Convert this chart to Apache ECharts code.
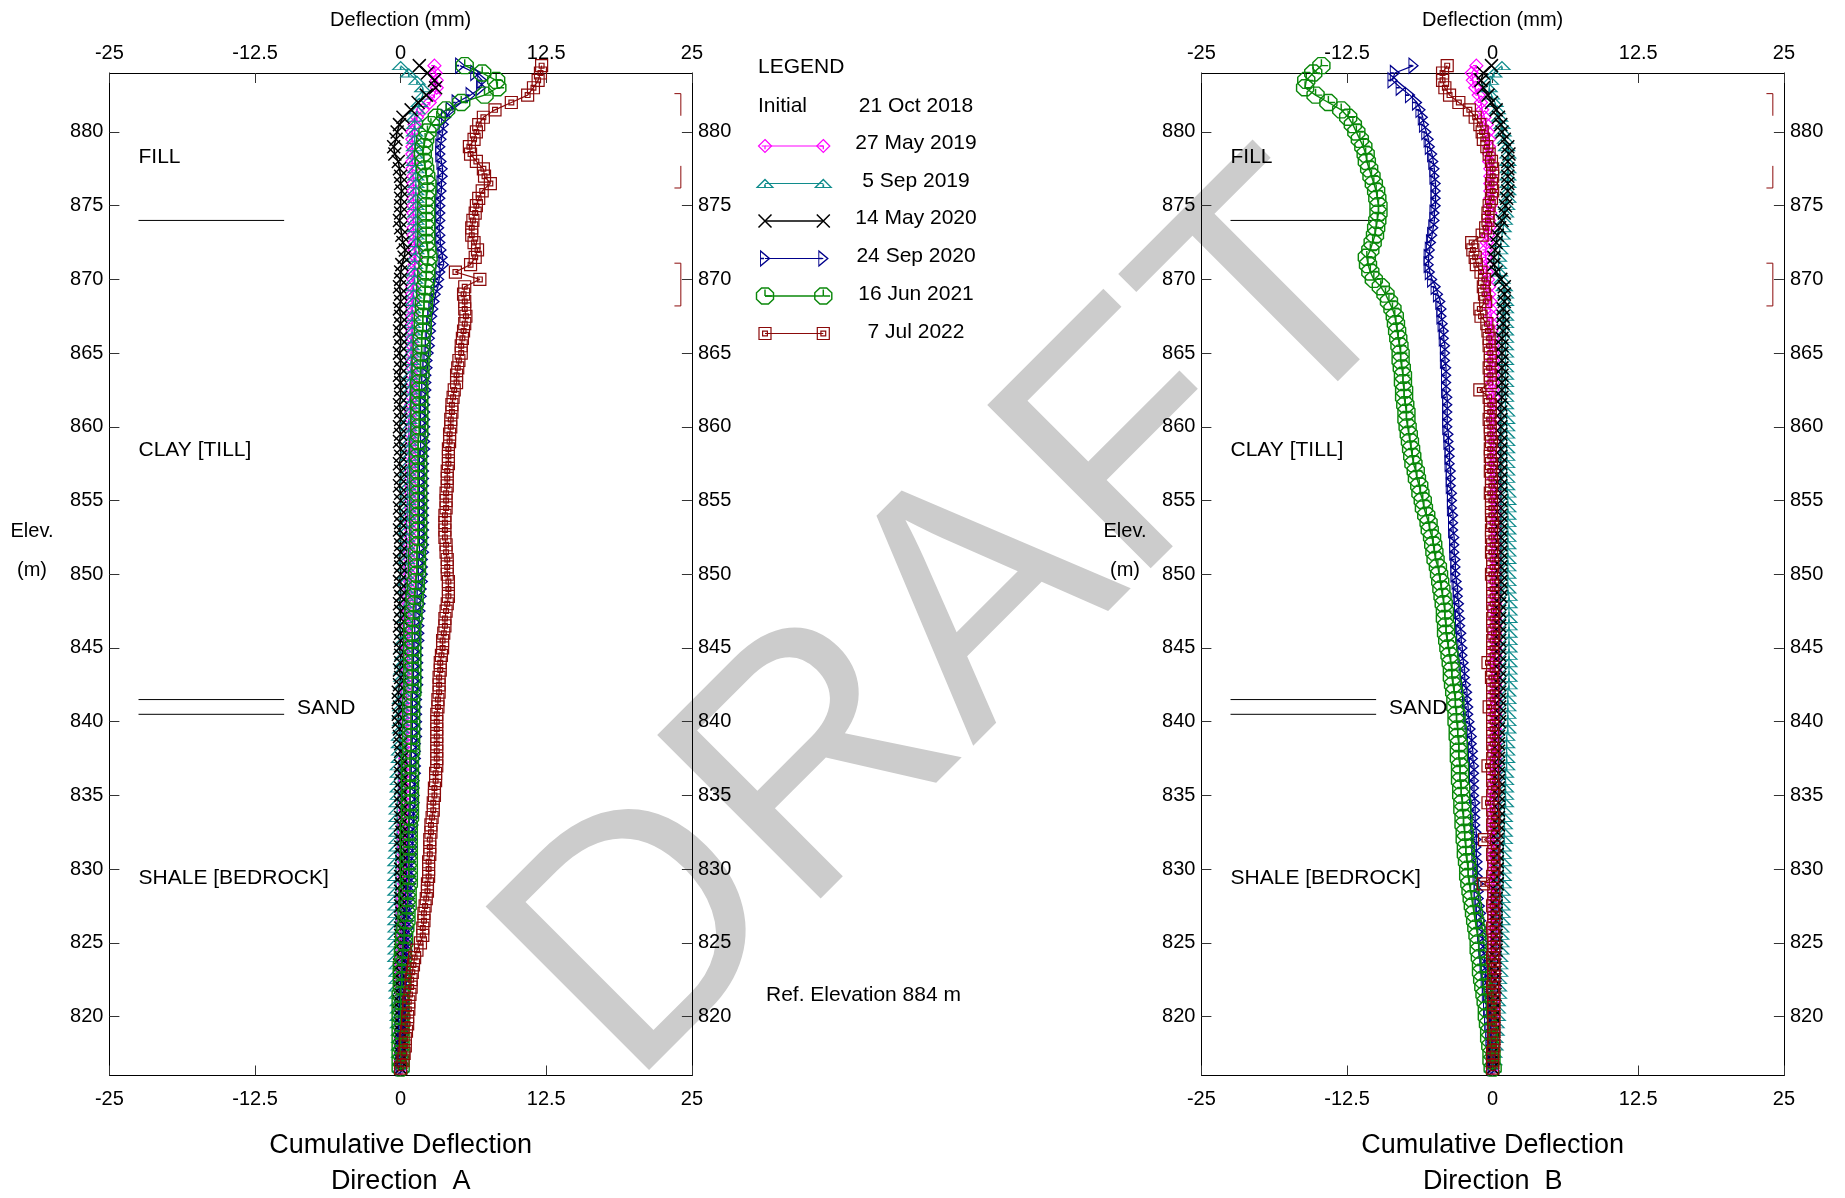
<!DOCTYPE html>
<html>
<head>
<meta charset="utf-8">
<title>Cumulative Deflection</title>
<script src="https://cdn.jsdelivr.net/npm/echarts@6.0.0/dist/echarts.min.js"></script>
<style>
html, body { margin: 0; padding: 0; background: #fff; }
#chart { width: 1845px; height: 1198px; }
</style>
</head>
<body>
<div id="chart"></div>
<script>
// reading depths (m), top of casing first
var elev = [
  884.5,884,883.5,883,882.5,882,881.5,881,880.5,880,
  879.5,879,878.5,878,877.5,877,876.5,876,875.5,875,
  874.5,874,873.5,873,872.5,872,871.5,871,870.5,870,
  869.5,869,868.5,868,867.5,867,866.5,866,865.5,865,
  864.5,864,863.5,863,862.5,862,861.5,861,860.5,860,
  859.5,859,858.5,858,857.5,857,856.5,856,855.5,855,
  854.5,854,853.5,853,852.5,852,851.5,851,850.5,850,
  849.5,849,848.5,848,847.5,847,846.5,846,845.5,845,
  844.5,844,843.5,843,842.5,842,841.5,841,840.5,840,
  839.5,839,838.5,838,837.5,837,836.5,836,835.5,835,
  834.5,834,833.5,833,832.5,832,831.5,831,830.5,830,
  829.5,829,828.5,828,827.5,827,826.5,826,825.5,825,
  824.5,824,823.5,823,822.5,822,821.5,821,820.5,820,
  819.5,819,818.5,818,817.5,817,816.5
];

// Direction A (mm)
var aMagenta = [
  2.9,3.0,3.1,3.1,2.9,2.5,1.9,1.4,1.2,1.0,
  1.0,1.0,1.0,1.0,1.0,1.1,1.1,1.1,1.1,1.1,
  1.1,1.1,1.1,1.1,1.2,1.2,1.3,1.2,1.1,1.1,
  1.0,1.0,1.0,1.0,1.0,1.0,1.0,1.0,1.0,1.0,
  1.0,1.0,1.0,1.0,1.0,1.0,0.9,0.9,0.9,0.9,
  0.9,0.9,0.9,0.9,0.9,0.9,0.9,0.9,0.9,0.9,
  0.9,0.9,0.9,0.9,0.9,0.8,0.8,0.8,0.8,0.8,
  0.8,0.8,0.7,0.7,0.7,0.7,0.7,0.6,0.6,0.6,
  0.6,0.6,0.6,0.6,0.6,0.5,0.5,0.5,0.5,0.5,
  0.5,0.5,0.5,0.5,0.4,0.4,0.4,0.4,0.4,0.4,
  0.4,0.4,0.4,0.3,0.3,0.3,0.3,0.3,0.3,0.3,
  0.3,0.3,0.3,0.2,0.2,0.2,0.2,0.2,0.2,0.2,
  0.2,0.1,0.1,0.1,0.1,0.1,0.1,0.1,0.0,0.0,
  0.0,0.0,0.0,0.0,0.0,0.0,0.0
];
var aTeal = [
  0.0,0.7,1.4,1.9,1.9,1.6,1.4,1.2,1.2,1.2,
  1.2,1.2,1.2,1.2,1.3,1.3,1.3,1.3,1.3,1.3,
  1.3,1.3,1.3,1.3,1.3,1.3,1.2,1.2,1.2,1.2,
  1.1,1.1,1.1,1.0,1.0,1.0,1.0,0.9,0.9,0.9,
  0.9,0.9,0.8,0.8,0.8,0.8,0.8,0.8,0.7,0.7,
  0.7,0.7,0.7,0.7,0.7,0.6,0.6,0.6,0.6,0.6,
  0.6,0.6,0.5,0.5,0.5,0.5,0.5,0.5,0.4,0.4,
  0.4,0.4,0.4,0.3,0.3,0.3,0.3,0.3,0.2,0.2,
  0.2,0.2,0.1,0.1,0.1,0.1,0.0,0.0,0.0,0.0,
  0.0,-0.1,-0.1,-0.1,-0.1,-0.2,-0.2,-0.2,-0.2,-0.2,
  -0.3,-0.3,-0.3,-0.3,-0.3,-0.3,-0.3,-0.4,-0.4,-0.4,
  -0.4,-0.4,-0.4,-0.4,-0.4,-0.4,-0.4,-0.4,-0.4,-0.4,
  -0.4,-0.4,-0.3,-0.3,-0.3,-0.3,-0.3,-0.2,-0.2,-0.2,
  -0.2,-0.1,-0.1,-0.1,-0.1,0.0,0.0
];
var aBlack = [
  1.6,2.3,2.9,3.0,2.2,1.5,0.9,0.2,-0.1,-0.3,
  -0.4,-0.6,-0.5,-0.2,-0.1,0.0,0.0,0.1,0.0,0.0,
  0.0,-0.1,0.0,0.1,0.2,0.4,0.3,0.1,0.0,0.0,
  -0.1,0.0,0.0,-0.1,0.0,0.0,-0.1,0.0,0.0,-0.1,
  0.0,0.0,-0.1,0.0,0.0,0.0,-0.1,0.0,0.0,-0.1,
  0.0,-0.1,0.0,0.0,-0.1,0.0,0.0,-0.1,0.0,0.0,
  -0.1,0.0,0.0,-0.1,0.0,0.0,0.0,-0.1,0.0,0.0,
  -0.1,0.0,0.0,-0.1,0.0,0.0,-0.1,0.0,0.0,-0.1,
  0.0,0.0,-0.1,0.0,-0.1,-0.2,-0.2,-0.1,-0.2,-0.2,
  -0.1,-0.1,0.0,0.0,0.1,0.0,0.0,0.1,0.0,0.0,
  0.0,0.1,0.0,0.0,0.1,0.0,0.0,0.1,0.1,0.0,
  0.0,0.1,0.0,0.0,0.0,0.1,0.0,0.0,0.0,0.0,
  0.0,0.0,-0.1,0.0,0.0,0.0,0.0,-0.1,0.0,0.0,
  0.0,0.0,0.0,0.0,0.0,0.0,0.0
];
var aBlue = [
  5.1,6.4,7.0,6.9,6.0,4.8,4.3,3.9,3.7,3.6,
  3.5,3.4,3.4,3.5,3.6,3.6,3.5,3.5,3.4,3.4,
  3.4,3.4,3.3,3.4,3.4,3.5,3.6,3.7,3.4,3.3,
  3.2,3.0,2.9,2.8,2.7,2.6,2.6,2.5,2.5,2.4,
  2.3,2.3,2.2,2.2,2.2,2.1,2.1,2.1,2.1,2.1,
  2.1,2.1,2.1,2.0,2.0,2.0,2.0,2.0,2.0,2.0,
  2.0,2.0,2.0,2.0,2.0,2.0,2.0,1.9,1.9,1.9,
  1.9,1.8,1.8,1.7,1.7,1.6,1.6,1.6,1.6,1.5,
  1.5,1.5,1.5,1.5,1.5,1.4,1.4,1.4,1.4,1.4,
  1.4,1.4,1.3,1.3,1.3,1.3,1.3,1.2,1.2,1.2,
  1.2,1.1,1.1,1.1,1.0,1.0,1.0,1.0,0.9,0.9,
  0.9,0.9,0.8,0.8,0.8,0.7,0.7,0.7,0.6,0.6,
  0.6,0.5,0.5,0.5,0.4,0.4,0.3,0.3,0.3,0.2,
  0.2,0.2,0.1,0.1,0.1,0.0,0.0
];
var aGreen = [
  5.5,7.0,8.2,8.3,7.2,5.2,3.9,3.1,2.6,2.3,
  2.1,2.0,1.9,2.0,2.1,2.2,2.3,2.3,2.2,2.2,
  2.2,2.2,2.2,2.2,2.2,2.3,2.4,2.3,2.2,2.2,
  2.1,2.1,2.0,2.0,1.9,1.9,1.9,1.8,1.8,1.8,
  1.7,1.7,1.7,1.6,1.6,1.6,1.6,1.6,1.6,1.6,
  1.6,1.5,1.5,1.5,1.5,1.5,1.5,1.5,1.5,1.5,
  1.5,1.5,1.5,1.5,1.5,1.5,1.4,1.4,1.4,1.4,
  1.3,1.3,1.2,1.2,1.1,1.1,1.0,1.0,1.0,1.0,
  1.0,1.0,1.0,1.0,1.0,1.0,0.9,0.9,0.9,0.9,
  0.9,0.9,0.9,0.9,0.8,0.8,0.8,0.8,0.8,0.8,
  0.8,0.8,0.8,0.7,0.7,0.7,0.7,0.7,0.7,0.7,
  0.7,0.7,0.6,0.6,0.6,0.5,0.5,0.4,0.3,0.3,
  0.2,0.2,0.1,0.1,0.1,0.1,0.0,0.0,0.0,0.0,
  0.0,0.0,0.0,0.0,0.0,0.0,0.0
];
var aRed = [
  12.1,12.0,11.8,11.4,10.9,9.5,8.1,7.1,6.7,6.5,
  6.3,5.9,6.0,6.5,7.1,7.2,7.7,7.0,6.7,6.5,
  6.4,6.2,6.1,6.1,6.3,6.6,6.4,6.0,4.7,6.8,
  5.5,5.4,5.5,5.5,5.6,5.5,5.4,5.3,5.2,5.2,
  5.0,4.9,4.8,4.8,4.6,4.5,4.4,4.4,4.3,4.3,
  4.2,4.2,4.1,4.1,4.1,4.0,4.0,4.0,3.9,3.9,
  3.9,3.8,3.8,3.8,3.8,3.9,3.9,4.0,4.0,4.0,
  4.1,4.1,4.1,4.0,3.9,3.8,3.8,3.7,3.6,3.6,
  3.5,3.4,3.4,3.3,3.3,3.3,3.2,3.2,3.1,3.1,
  3.1,3.1,3.1,3.1,3.1,3.1,3.0,3.0,2.9,2.9,
  2.8,2.8,2.7,2.6,2.6,2.5,2.5,2.5,2.4,2.4,
  2.4,2.3,2.3,2.2,2.1,2.0,2.0,1.9,1.9,1.7,
  1.4,1.2,1.1,1.0,0.9,0.9,0.8,0.7,0.7,0.6,
  0.6,0.5,0.4,0.4,0.3,0.2,0.0
];

// Direction B (mm)
var bMagenta = [
  -1.4,-1.8,-1.7,-1.5,-1.2,-1.0,-0.9,-0.7,-0.5,-0.4,
  -0.3,-0.3,-0.3,-0.3,-0.2,-0.2,-0.2,-0.2,-0.2,-0.2,
  -0.2,-0.3,-0.3,-0.4,-0.5,-0.6,-0.6,-0.5,-0.5,-0.4,
  -0.3,-0.3,-0.2,-0.2,-0.1,-0.1,-0.1,0.0,0.0,0.0,
  0.0,0.0,0.0,0.0,0.0,0.1,0.1,0.1,0.1,0.1,
  0.1,0.1,0.1,0.1,0.1,0.1,0.1,0.2,0.2,0.2,
  0.2,0.2,0.2,0.2,0.2,0.2,0.2,0.2,0.2,0.2,
  0.2,0.2,0.2,0.2,0.2,0.2,0.2,0.2,0.2,0.2,
  0.2,0.2,0.2,0.2,0.2,0.2,0.2,0.2,0.2,0.2,
  0.2,0.2,0.2,0.2,0.2,0.2,0.2,0.2,0.1,0.1,
  0.1,0.1,0.1,0.1,0.1,0.1,0.1,0.1,0.1,0.1,
  0.1,0.1,0.1,0.1,0.1,0.1,0.1,0.1,0.1,0.1,
  0.1,0.1,0.1,0.1,0.1,0.1,0.1,0.0,0.0,0.0,
  0.0,0.0,0.0,0.0,0.0,0.0,0.0
];
var bTeal = [
  0.8,0.1,-0.2,-0.3,-0.1,0.2,0.4,0.6,0.8,0.9,
  1.1,1.2,1.3,1.3,1.3,1.3,1.3,1.3,1.3,1.2,
  1.1,1.0,0.9,0.8,0.7,0.6,0.5,0.5,0.6,0.8,
  1.0,1.1,1.1,1.1,1.1,1.1,1.1,1.1,1.1,1.1,
  1.1,1.1,1.1,1.1,1.1,1.1,1.1,1.2,1.2,1.2,
  1.2,1.2,1.2,1.2,1.2,1.2,1.2,1.2,1.3,1.3,
  1.3,1.3,1.3,1.3,1.3,1.3,1.3,1.3,1.3,1.3,
  1.3,1.3,1.4,1.4,1.4,1.4,1.4,1.4,1.4,1.4,
  1.4,1.4,1.4,1.4,1.4,1.3,1.3,1.3,1.3,1.3,
  1.3,1.2,1.2,1.2,1.2,1.2,1.1,1.1,1.1,1.1,
  1.1,1.0,1.0,1.0,1.0,1.0,0.9,0.9,0.9,0.9,
  0.9,0.9,0.8,0.8,0.8,0.8,0.8,0.7,0.7,0.7,
  0.7,0.6,0.6,0.6,0.5,0.5,0.5,0.4,0.4,0.4,
  0.3,0.3,0.2,0.2,0.1,0.1,0.0
];
var bBlack = [
  -0.1,-0.8,-1.0,-0.8,-0.4,-0.1,0.3,0.5,0.7,0.8,
  1.0,1.3,1.4,1.3,1.3,1.3,1.3,1.3,1.2,1.1,
  1.0,0.8,0.6,0.4,0.3,0.2,0.1,0.1,0.3,0.7,
  1.0,1.0,1.0,0.9,0.9,0.9,0.9,0.8,0.8,0.8,
  0.8,0.8,0.8,0.8,0.8,0.8,0.7,0.7,0.7,0.7,
  0.7,0.7,0.7,0.7,0.7,0.7,0.7,0.7,0.7,0.7,
  0.7,0.7,0.7,0.7,0.7,0.7,0.7,0.7,0.7,0.7,
  0.7,0.7,0.7,0.6,0.6,0.6,0.6,0.6,0.6,0.6,
  0.6,0.6,0.6,0.6,0.6,0.6,0.6,0.6,0.6,0.6,
  0.5,0.5,0.5,0.5,0.5,0.5,0.5,0.5,0.5,0.5,
  0.5,0.5,0.5,0.5,0.4,0.4,0.4,0.4,0.4,0.4,
  0.4,0.4,0.3,0.3,0.3,0.3,0.3,0.3,0.3,0.3,
  0.3,0.2,0.2,0.2,0.2,0.2,0.2,0.1,0.1,0.1,
  0.1,0.1,0.1,0.0,0.0,0.0,0.0
];
var bBlue = [
  -6.8,-8.4,-8.6,-7.9,-7.1,-6.5,-6.2,-6.0,-5.9,-5.7,
  -5.5,-5.4,-5.2,-5.1,-5.0,-5.0,-4.9,-4.9,-4.9,-4.9,
  -5.0,-5.0,-5.1,-5.2,-5.3,-5.4,-5.5,-5.5,-5.4,-5.2,
  -4.9,-4.7,-4.5,-4.4,-4.4,-4.3,-4.2,-4.2,-4.1,-4.1,
  -4.1,-4.0,-4.0,-4.0,-4.0,-3.9,-3.9,-3.9,-3.9,-3.9,
  -3.8,-3.8,-3.7,-3.7,-3.7,-3.6,-3.6,-3.6,-3.5,-3.5,
  -3.5,-3.4,-3.4,-3.4,-3.3,-3.3,-3.3,-3.2,-3.2,-3.2,
  -3.1,-3.0,-3.0,-2.9,-2.9,-2.8,-2.8,-2.7,-2.7,-2.6,
  -2.6,-2.5,-2.4,-2.4,-2.3,-2.2,-2.2,-2.1,-2.1,-2.0,
  -1.9,-1.8,-1.8,-1.7,-1.7,-1.6,-1.6,-1.6,-1.6,-1.6,
  -1.5,-1.5,-1.5,-1.5,-1.4,-1.4,-1.4,-1.4,-1.3,-1.3,
  -1.3,-1.2,-1.2,-1.2,-1.1,-1.0,-1.0,-0.9,-0.9,-0.8,
  -0.8,-0.7,-0.7,-0.6,-0.6,-0.5,-0.5,-0.4,-0.4,-0.3,
  -0.3,-0.2,-0.2,-0.1,-0.1,0.0,0.0
];
var bGreen = [
  -14.7,-15.4,-16.0,-16.1,-15.2,-14.1,-13.0,-12.4,-12.0,-11.7,
  -11.4,-11.1,-10.9,-10.8,-10.6,-10.4,-10.2,-10.0,-9.9,-9.8,
  -9.8,-9.9,-10.0,-10.1,-10.3,-10.5,-10.8,-10.7,-10.5,-10.2,
  -9.6,-9.2,-8.9,-8.6,-8.4,-8.3,-8.2,-8.1,-8.0,-7.9,
  -7.9,-7.8,-7.7,-7.7,-7.6,-7.6,-7.5,-7.4,-7.4,-7.3,
  -7.2,-7.1,-7.0,-6.9,-6.8,-6.6,-6.5,-6.3,-6.2,-6.0,
  -5.9,-5.7,-5.5,-5.4,-5.2,-5.1,-5.0,-4.9,-4.7,-4.6,
  -4.5,-4.4,-4.3,-4.2,-4.1,-4.1,-4.0,-4.0,-3.9,-3.8,
  -3.7,-3.6,-3.5,-3.5,-3.4,-3.3,-3.2,-3.2,-3.1,-3.1,
  -3.0,-3.0,-2.9,-2.9,-2.9,-2.8,-2.8,-2.8,-2.7,-2.7,
  -2.6,-2.6,-2.5,-2.5,-2.4,-2.4,-2.3,-2.3,-2.2,-2.1,
  -2.1,-2.0,-1.9,-1.8,-1.7,-1.6,-1.5,-1.4,-1.3,-1.2,
  -1.2,-1.1,-1.0,-1.0,-0.9,-0.8,-0.7,-0.6,-0.5,-0.5,
  -0.4,-0.3,-0.3,-0.2,-0.1,-0.1,0.0
];
var bRed = [
  -3.9,-4.3,-4.3,-4.1,-3.7,-2.9,-2.0,-1.5,-1.1,-0.9,
  -0.8,-0.5,-0.3,-0.1,0.0,0.0,-0.1,0.0,-0.1,-0.3,
  -0.4,-0.4,-0.6,-0.9,-1.8,-1.7,-1.5,-1.4,-1.0,-0.7,
  -0.8,-0.7,-0.6,-1.1,-1.0,-0.5,-0.4,-0.3,-0.3,-0.2,
  -0.2,-0.3,-0.2,-0.2,-1.1,-0.3,-0.2,-0.2,-0.3,-0.2,
  -0.2,-0.1,-0.2,-0.2,-0.1,-0.2,-0.1,-0.1,-0.2,-0.1,
  -0.1,-0.1,0.0,-0.1,-0.1,0.0,-0.1,0.0,0.0,-0.1,
  0.0,0.0,0.0,0.0,0.1,0.0,0.0,0.1,0.0,0.0,
  0.0,-0.4,0.0,-0.1,0.0,0.0,0.0,-0.3,0.0,0.0,
  0.0,0.0,0.0,0.1,0.0,-0.4,0.0,0.0,0.1,0.0,
  -0.4,0.0,0.1,0.0,0.1,-0.7,0.1,0.0,0.1,0.1,
  0.0,-0.8,0.1,0.1,0.0,0.1,0.1,0.0,0.1,0.1,
  0.1,0.0,0.1,0.1,0.1,0.0,0.1,0.1,0.1,0.1,
  0.1,0.1,0.1,0.1,0.0,0.0,0.0
];

var readingDates = ['27 May 2019', '5 Sep 2019', '14 May 2020', '24 Sep 2020', '16 Jun 2021', '7 Jul 2022'];
var initialDate = '21 Oct 2018';
var dirA = [aMagenta, aTeal, aBlack, aBlue, aGreen, aRed];
var dirB = [bMagenta, bTeal, bBlack, bBlue, bGreen, bRed];

// soil log
var strataNames = ['FILL', 'CLAY [TILL]', 'SAND', 'SHALE [BEDROCK]'];
var strataLabelX = [-22.5, -22.5, -8.9, -22.5];
var strataLabelElev = [878.3, 858.4, 840.9, 829.4];
var strataLineElev = [874, 841.5, 840.5];
var strataLineFrom = -22.5, strataLineTo = -10;

// red marks at the right edge
var casingMarks = [
  [[23.5, 882.6], [24.05, 882.6], [24.05, 881.1]],
  [[24.05, 877.7], [24.05, 876.2], [23.5, 876.2]],
  [[23.5, 871.1], [24.05, 871.1], [24.05, 868.2], [23.5, 868.2]]
];

var FONT = '"Liberation Sans", Arial, Helvetica, sans-serif';

var looks = [
  { color: '#ff00ff', symbol: 'path://M5,0L10,5L5,10L0,5Z M2.5,5L5,5L5,7.5', size: [13, 13], width: 1.2 },
  { color: '#108c8c', symbol: 'path://M0,10L5,0L10,10Z M5,10L5,6', size: [16, 8], width: 1.2 },
  { color: '#000000', symbol: 'path://M0,0L10,10M10,0L0,10', size: [13, 13], width: 1.5 },
  { color: '#00008b', symbol: 'path://M0,0L10,5L0,10Z M0,5L4,5', size: [9, 15], width: 1.2 },
  { color: '#0a880a', symbol: 'path://M3,0L7,0L10,3L10,7L7,10L3,10L0,7L0,3Z M5,5L5,1 M5,5L9,5', size: [17, 16], width: 1.4 },
  { color: '#8b0a0a', symbol: 'path://M0,0L10,0L10,10L0,10Z M3,3L7,3L7,7L3,7Z', size: [12, 12], width: 1.2 }
];

var myChart = echarts.init(document.getElementById('chart'));

var plotLeft = [109.4, 1201.4];
var plotTop = 73, plotW = 582.5, plotH = 1002.5;

var grids = [], xAxes = [], yAxes = [], series = [];

function markSeries(k, pts, xi) {
  var lk = looks[k];
  return {
    type: 'line', name: readingDates[k],
    xAxisIndex: xi, yAxisIndex: xi,
    data: pts,
    symbol: lk.symbol, symbolSize: lk.size, showSymbol: true,
    clip: false, silent: true, z: 4,
    lineStyle: { color: lk.color, width: lk.width },
    itemStyle: { color: 'rgba(0,0,0,0)', borderColor: lk.color, borderWidth: lk.width },
    emphasis: { disabled: true }
  };
}

[0, 1].forEach(function (g) {
  grids.push({ left: plotLeft[g], top: plotTop, width: plotW, height: plotH, outerBoundsMode: 'none' });
  var xBase = {
    type: 'value', gridIndex: g, min: -25, max: 25, interval: 12.5, z: 3,
    axisLine: { show: true, onZero: false, lineStyle: { color: '#000', width: 1 } },
    axisTick: { show: true, inside: true, length: 10, lineStyle: { color: '#333', width: 1 } },
    splitLine: { show: false },
    axisLabel: { color: '#000', fontSize: 20, fontFamily: FONT }
  };
  xAxes.push(echarts.util.merge({
    position: 'bottom',
    axisLabel: { margin: 14 },
    name: 'Cumulative Deflection\nDirection  ' + (g === 0 ? 'A' : 'B'),
    nameLocation: 'middle', nameGap: 52,
    nameTextStyle: { color: '#000', fontSize: 27, lineHeight: 36, fontFamily: FONT }
  }, echarts.util.clone(xBase), false));
  xAxes.push(echarts.util.merge({
    position: 'top',
    axisLabel: { margin: 10 },
    name: 'Deflection (mm)',
    nameLocation: 'middle', nameGap: 43,
    nameTextStyle: { color: '#000', fontSize: 20, fontFamily: FONT }
  }, echarts.util.clone(xBase), false));
  ['left', 'right'].forEach(function (side) {
    yAxes.push({
      type: 'value', gridIndex: g, position: side, min: 816, max: 884, splitNumber: 14, z: 3,
      axisLine: { show: true, onZero: false, lineStyle: { color: '#000', width: 1 } },
      axisTick: { show: true, inside: true, length: 10, lineStyle: { color: '#333', width: 1 } },
      splitLine: { show: false },
      axisLabel: { color: '#000', fontSize: 20, fontFamily: FONT, margin: 6, showMinLabel: false, showMaxLabel: false }
    });
  });

  var xi = g * 2;
  var profiles = g === 0 ? dirA : dirB;
  profiles.forEach(function (vals, k) {
    series.push(markSeries(k, vals.map(function (v, i) { return [v, elev[i]]; }), xi));
  });

  strataLineElev.forEach(function (e) {
    series.push({
      type: 'line', xAxisIndex: xi, yAxisIndex: xi, silent: true, z: 3,
      data: [[strataLineFrom, e], [strataLineTo, e]], symbol: 'none',
      lineStyle: { color: '#000', width: 1 }
    });
  });

  casingMarks.forEach(function (pts) {
    series.push({
      type: 'line', xAxisIndex: xi, yAxisIndex: xi, silent: true, z: 3,
      data: pts, symbol: 'none',
      lineStyle: { color: '#8b0a0a', width: 1 }
    });
  });

  series.push({
    type: 'scatter', xAxisIndex: xi, yAxisIndex: xi, silent: true, z: 5,
    symbolSize: 0, itemStyle: { color: '#000', opacity: 1 },
    data: strataNames.map(function (n, i) { return { value: [strataLabelX[i], strataLabelElev[i]], name: n }; }),
    label: {
      show: true, position: 'right', distance: 0, formatter: '{b}', opacity: 1,
      color: '#000', fontSize: 21, fontFamily: FONT, textBorderWidth: 0
    }
  });
});

// legend drawn as a small extra grid so the sample lines use the same symbols
grids.push({ left: 765, top: 127.25, width: 58.3, height: 225, outerBoundsMode: 'none' });
xAxes.push({ type: 'value', gridIndex: 2, min: 0, max: 1, show: false });
yAxes.push({ type: 'value', gridIndex: 2, min: 0.5, max: 6.5, inverse: true, show: false });
readingDates.forEach(function (d, k) {
  series.push(markSeries(k, [[0, k + 1], [1, k + 1]], 4));
});

function txt(str, x, y, size, align) {
  return {
    type: 'text', x: x, y: y, z: 5, silent: true,
    style: { text: str, fill: '#000', font: size + 'px ' + FONT, textAlign: align || 'left', textVerticalAlign: 'middle' }
  };
}

var graphics = [
  {
    type: 'text', x: 960, y: 628, rotation: Math.PI / 4, z: 1, silent: true,
    style: { text: 'DRAFT', fill: '#cccccc', font: '336px ' + FONT, textAlign: 'center', textVerticalAlign: 'middle' }
  },
  txt('LEGEND', 758, 67.5, 21),
  txt('Initial', 758, 106, 21),
  txt(initialDate, 916, 106, 21, 'center'),
  txt('Ref. Elevation 884 m', 766, 995, 21),
  txt('Elev.', 32, 531, 20, 'center'),
  txt('(m)', 32, 570, 20, 'center'),
  txt('Elev.', 1125, 531, 20, 'center'),
  txt('(m)', 1125, 570, 20, 'center')
];
readingDates.forEach(function (d, k) {
  graphics.push(txt(d, 916, 143 + k * 37.8, 21, 'center'));
});

var option = {
  animation: false,
  backgroundColor: '#ffffff',
  textStyle: { fontFamily: FONT },
  grid: grids,
  xAxis: xAxes,
  yAxis: yAxes,
  series: series,
  graphic: graphics
};

myChart.setOption(option, true);
</script>
</body>
</html>
